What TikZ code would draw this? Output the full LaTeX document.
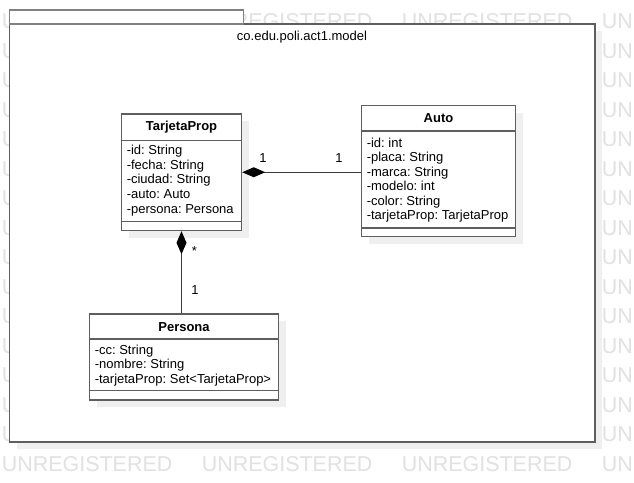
\documentclass[tikz,border=0pt]{standalone}
\usepackage{fontspec}
\setmainfont{Liberation Sans}
\usetikzlibrary{arrows.meta,fit}
\frenchspacing
\definecolor{wmc}{HTML}{E1E1E1}
\definecolor{shc}{HTML}{EFEFEF}
\definecolor{bdc}{HTML}{5E5E5E}
\definecolor{lnc}{HTML}{3A3A3A}
\begin{document}
\begin{tikzpicture}[x=0.75pt,y=-0.75pt,
  wm/.style={anchor=base west,inner sep=0pt,text=wmc,font=\fontsize{16.1}{18}\selectfont},
  pkgframe/.style={draw=bdc,line width=1.1pt,fill=white,inner sep=0pt},
  tabframe/.style={draw=gray,line width=1.1pt,fill=white,inner sep=0pt},
  classbox/.style={draw=bdc,line width=1.1pt,fill=white,inner sep=0pt},
  shadowbox/.style={fill=shc},
  sepline/.style={draw=bdc,line width=1.1pt},
  title/.style={inner sep=0pt,font=\fontsize{9.75}{11}\selectfont\bfseries},
  attr/.style={anchor=base west,inner sep=0pt,font=\fontsize{9.75}{11}\selectfont},
  lbl/.style={inner sep=0pt,font=\fontsize{9.75}{11}\selectfont},
  lnk/.style={draw=lnc,line width=0.9pt},
  comp/.style={{Diamond[length=17.25pt,width=7.5pt,color=black,fill=black]}-}
]
\useasboundingbox (0,0) rectangle (634,482);
\fill[white] (0,0) rectangle (634,482);
% watermark
\begin{scope}
\clip (0,0) rectangle (634,482);
\foreach \k in {0,...,15}{
  \foreach \i in {0,...,3}{
    \node[wm] (wm-\k-\i) at ({1.5+200*\i},{28.7+29.5*\k}) {UNREGISTERED};
  }
}
\end{scope}
% package
\fill[shadowbox] (16.5,31) rectangle (602,449);
\node[pkgframe,fit={(9.5,24) (595,442)}] (pkg) {};
\node[tabframe,fit={(9.5,10) (243.5,24)}] (tab) {};
\node[lbl] (pkgname) at (302,37.3) {co.edu.poli.act1.model};
% TarjetaProp
\fill[shadowbox] (128.5,121) rectangle (248.5,237.5);
\node[classbox,fit={(121.5,114) (241.5,230.5)}] (tp) {};
\draw[sepline] (121.5,140.5) -- (241.5,140.5);
\draw[sepline] (121.5,221.5) -- (241.5,221.5);
\node[title] (tpt) at (181.5,127.3) {TarjetaProp};
\foreach \t [count=\n] in {-id: String,-fecha: String,-ciudad: String,-auto: Auto,-persona: Persona}{
  \node[attr] (tpa\n) at (126.5,{154.5+14.7*(\n-1)}) {\t};
}
% Auto
\fill[shadowbox] (368.5,112.5) rectangle (522.5,243.5);
\node[classbox,fit={(361.5,105.5) (515.5,236.5)}] (au) {};
\draw[sepline] (361.5,131) -- (515.5,131);
\draw[sepline] (361.5,228) -- (515.5,228);
\node[title] (aut) at (438.5,118.5) {Auto};
\foreach \t [count=\n] in {-id: int,-placa: String,-marca: String,-modelo: int,-color: String,-tarjetaProp: TarjetaProp}{
  \node[attr] (aua\n) at (366.5,{147.3+14.5*(\n-1)}) {\t};
}
% Persona
\fill[shadowbox] (96.5,321) rectangle (285.5,407);
\node[classbox,fit={(89.5,314) (278.5,400)}] (pe) {};
\draw[sepline] (89.5,339) -- (278.5,339);
\draw[sepline] (89.5,390.5) -- (278.5,390.5);
\node[title] (pet) at (184,326.6) {Persona};
\foreach \t [count=\n] in {-cc: String,-nombre: String,-tarjetaProp: Set<TarjetaProp>}{
  \node[attr] (pea\n) at (94.5,{354.5+14.3*(\n-1)}) {\t};
}
% connectors
\draw[lnk,comp] (tp.east) -- (tp.east -| au.west);
\draw[lnk,comp] (tp.south) -- (tp.south |- pe.north);
\node[lbl] (m1) at (263,158.3) {1};
\node[lbl] (m2) at (339,158.3) {1};
\node[lbl] (m3) at (194.3,251) {*};
\node[lbl] (m4) at (195,290) {1};
\end{tikzpicture}
\end{document}
